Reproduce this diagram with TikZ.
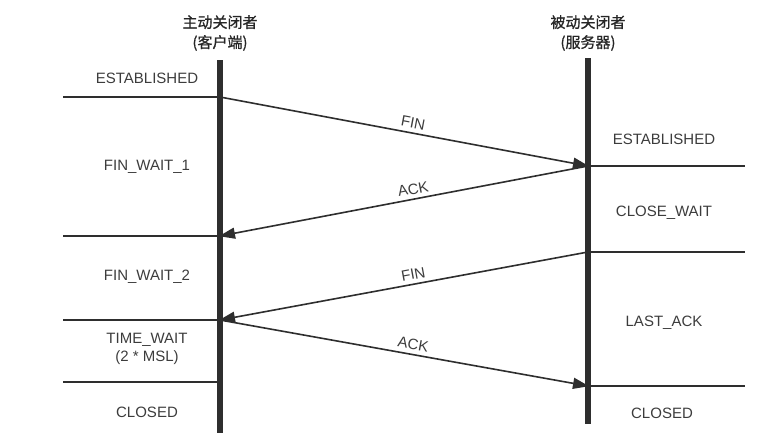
\documentclass[tikz,border=0pt]{standalone}
\usepackage{fontspec}
\setmainfont{Liberation Sans}
\newfontfamily\cjk[FakeBold=1]{Noto Sans CJK SC}
\usetikzlibrary{arrows.meta}
\definecolor{linegray}{HTML}{2E2E2E}
\definecolor{textgray}{HTML}{3C3C3C}
\tikzset{
  timeline/.style={line width=6pt, draw=linegray},
  stateline/.style={line width=1.4pt, draw=linegray},
  msg/.style={line width=1.6pt, draw=linegray,
    -{Triangle[length=16pt,width=11pt]}, shorten >=-1pt},
  statelabel/.style={text=textgray, font=\fontsize{15}{17}\selectfont},
  msglabel/.style={text=textgray, font=\fontsize{15}{17}\selectfont, sloped, above, inner sep=4pt},
  header/.style={text=black!85, font=\cjk\fontsize{15}{20}\selectfont, align=center}
}
\begin{document}
\begin{tikzpicture}[x=1pt,y=-1pt]
        \useasboundingbox (0,0) rectangle (771,437);
        %
        \node[header] (client) at (220,33) {主动关闭者\\(客户端)};
        \node[header] (server) at (588,33) {被动关闭者\\(服务器)};
        %
        \draw [timeline] (220,60) -- (220,433);
        \draw [timeline] (588,58) -- (588,424);
        %
        \coordinate (c1) at (220,97);
        \coordinate (c2) at (220,236);
        \coordinate (c3) at (220,320);
        \coordinate (c4) at (220,382);
        \coordinate (s1) at (588,166);
        \coordinate (s2) at (588,252);
        \coordinate (s3) at (588,386);
        %
        \draw [stateline] (63,97) -- (c1);
        \draw [stateline] (63,236) -- (c2);
        \draw [stateline] (63,320) -- (c3);
        \draw [stateline] (63,382) -- (c4);
        \draw [stateline] (s1) -- (745,166);
        \draw [stateline] (s2) -- (745,252);
        \draw [stateline] (s3) -- (745,386);
        %
        \draw [msg] (c1) -- node[msglabel, pos=0.52] {FIN} (s1);
        \draw [msg] (s1) -- node[msglabel, pos=0.47] {ACK} (c2);
        \draw [msg] (s2) -- node[msglabel, pos=0.47] {FIN} (c3);
        \draw [msg] (c3) -- node[msglabel, pos=0.52] {ACK} (s3);
        %
        \node[statelabel] (cest) at (147,78) {ESTABLISHED};
        \node[statelabel] (cfw1) at (147,167) {FIN\_WAIT\_1};
        \node[statelabel] (cfw2) at (147,277) {FIN\_WAIT\_2};
        \node[statelabel] (ctw) at (147,340) {TIME\_WAIT};
        \node[statelabel] (cmsl) at (147,358) {(2 * MSL)};
        \node[statelabel] (ccl) at (147,412) {CLOSED};
        %
        \node[statelabel] (sest) at (664,139) {ESTABLISHED};
        \node[statelabel] (scw) at (664,213) {CLOSE\_WAIT};
        \node[statelabel] (sla) at (664,323) {LAST\_ACK};
        \node[statelabel] (scl) at (662,413) {CLOSED};
\end{tikzpicture}
\end{document}
